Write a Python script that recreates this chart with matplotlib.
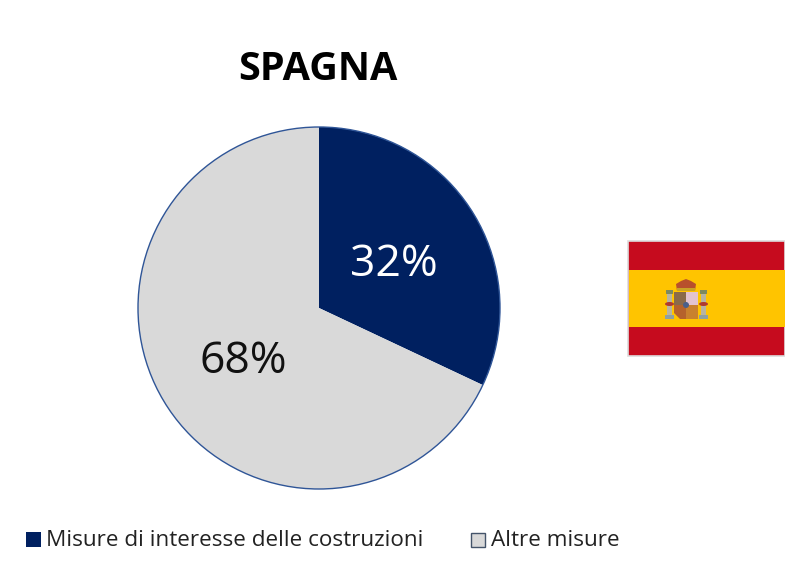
import matplotlib
matplotlib.use('Agg')
import matplotlib.pyplot as plt
from matplotlib.patches import Rectangle, Polygon, Circle, Ellipse

labels = ['Misure di interesse delle costruzioni', 'Altre misure']
values = [32, 68]
pct_labels = ['32%', '68%']
colors = ['#002060', '#D9D9D9']

plt.rcParams['font.family'] = ['Open Sans', 'DejaVu Sans']

W, H = 785, 575
fig = plt.figure(figsize=(W / 100, H / 100), dpi=100)

# pie axes in pixel coordinates of the reference
cx, cy, r = 319, 308, 181
ax = fig.add_axes([(cx - r) / W, 1 - (cy + r) / H, 2 * r / W, 2 * r / H])
wedges, _ = ax.pie(values, colors=colors, startangle=90, counterclock=False, radius=1,
                   wedgeprops=dict(edgecolor='none'))
ax.set_xlim(-1, 1)
ax.set_ylim(-1, 1)
ax.add_patch(Circle((0, 0), 1, fill=False, edgecolor='#2F5597', linewidth=1, clip_on=False))
for w in wedges:
    w.set_clip_on(False)

ax.text(0.415, 0.24, pct_labels[0], color='white', fontsize=32, ha='center', va='center')
ax.text(-0.42, -0.295, pct_labels[1], color='#111111', fontsize=32, ha='center', va='center')

fig.text(318 / W, 1 - 70 / H, 'SPAGNA', fontsize=28.5, fontweight='bold', ha='center', va='center')

# overlay in reference pixel coordinates
bg = fig.add_axes([0, 0, 1, 1], zorder=-1)
bg.set_xlim(0, W)
bg.set_ylim(H, 0)
bg.axis('off')

# legend
bg.add_patch(Rectangle((26, 532), 15, 15, facecolor=colors[0], edgecolor='none'))
bg.add_patch(Rectangle((471, 533), 14, 14, facecolor=colors[1], edgecolor='#44546A', linewidth=1))
bg.text(46, 540, labels[0], fontsize=16.2, va='center', color='#222222')
bg.text(491, 540, labels[1], fontsize=16.2, va='center', color='#222222')

# flag of Spain
bg.add_patch(Rectangle((628, 241), 157, 115, facecolor='#C60B1E', edgecolor='#DDDDDD', linewidth=1.2))
bg.add_patch(Rectangle((629, 270), 156, 57, facecolor='#FFC400', edgecolor='none'))

# shield
bg.add_patch(Polygon([(674, 292), (698, 292), (698, 313), (692, 319), (680, 319), (674, 313)],
                     facecolor='#B5622C', edgecolor='none'))
bg.add_patch(Rectangle((674, 292), 12, 13, facecolor='#8A6A4A', edgecolor='none'))
bg.add_patch(Rectangle((686, 292), 12, 13, facecolor='#E3C4D0', edgecolor='none'))
bg.add_patch(Rectangle((686, 305), 12, 14, facecolor='#C9812E', edgecolor='none'))
bg.add_patch(Circle((686, 305), 3, facecolor='#4A5F8A', edgecolor='none'))
# crown
bg.add_patch(Polygon([(677, 291), (676, 284), (681, 281), (686, 279), (691, 281), (696, 284), (695, 291)],
                     facecolor='#B8502C', edgecolor='none'))
bg.add_patch(Rectangle((677, 288), 18, 3, facecolor='#C9A227', edgecolor='none'))
# pillars
for px in (666, 700):
    bg.add_patch(Rectangle((px + 1, 293), 5, 22, facecolor='#B8B4A0', edgecolor='none'))
    bg.add_patch(Rectangle((px, 290), 7, 4, facecolor='#7E8A5E', edgecolor='none'))
    bg.add_patch(Rectangle((px - 1, 315), 9, 4, facecolor='#8FA0A0', edgecolor='none'))
    bg.add_patch(Ellipse((px + 3.5, 304), 9, 4, facecolor='#B03A2E', edgecolor='none'))

fig.savefig('out.png', dpi=100)
